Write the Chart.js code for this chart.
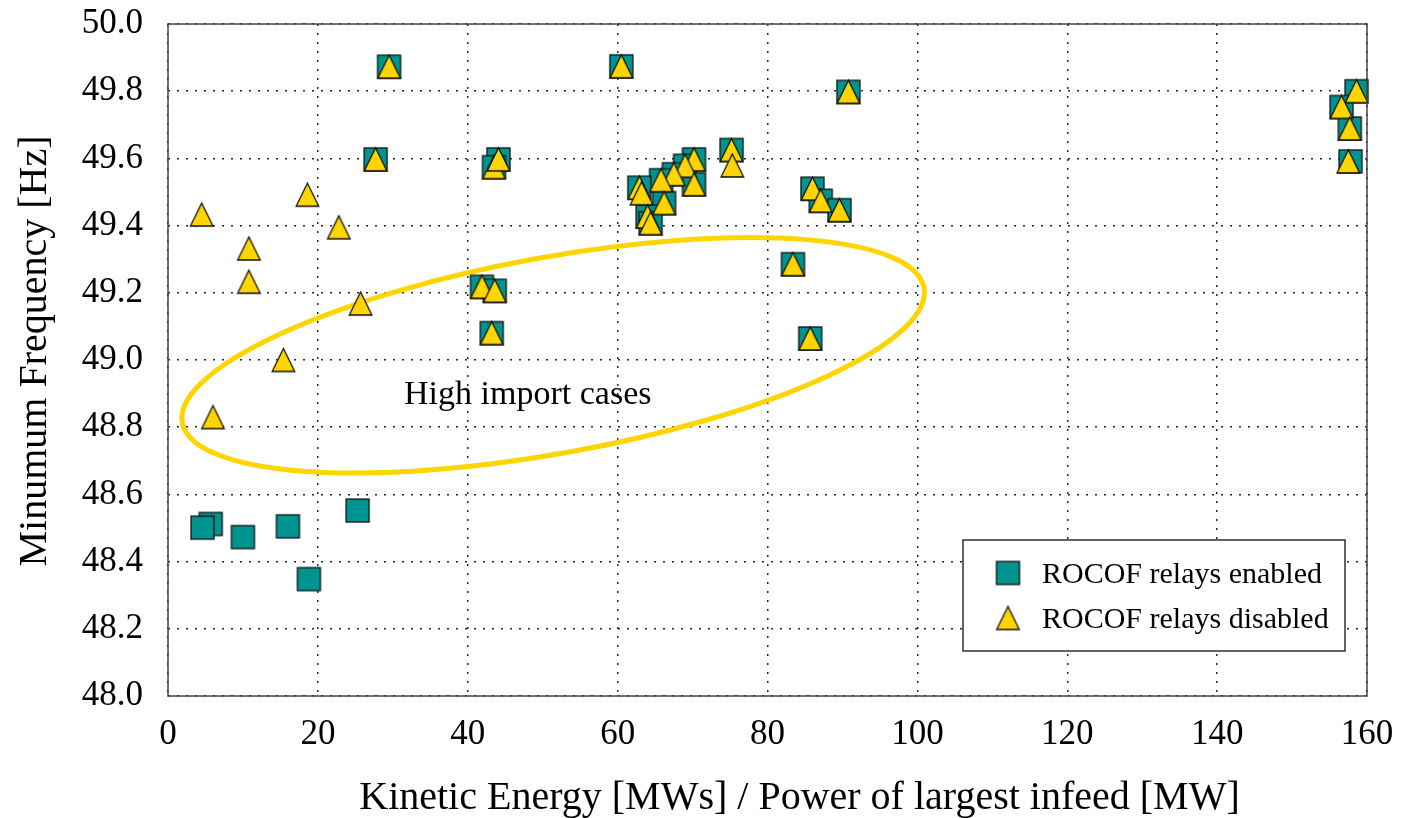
<!DOCTYPE html>
<html>
<head>
<meta charset="utf-8">
<script src="https://cdn.jsdelivr.net/npm/chart.js@4.4.0/dist/chart.umd.min.js"></script>
<style>
html, body { margin: 0; padding: 0; background: #fff; }
#wrap { width: 1402px; height: 818px; }
</style>
</head>
<body>
<div id="wrap"><canvas id="freqChart" width="1402" height="818"></canvas></div>
<script>
// ROCOF relays enabled (squares)
const enabledX = [29.5, 27.7, 41.9, 43.6, 43.2, 44.1, 43.5, 60.5, 90.8, 75.2,
                  70.2, 69.0, 67.5, 65.8, 62.9, 70.2, 66.2, 64.0, 64.4, 86.0,
                  87.1, 89.6, 83.4, 85.7, 5.7, 4.6, 10.0, 16.0, 25.3, 18.8,
                  158.6, 156.6, 157.7, 157.8];
const enabledY = [49.873, 49.597, 49.218, 49.206, 49.080, 49.597, 49.574, 49.874, 49.798, 49.625,
                  49.597, 49.578, 49.553, 49.535, 49.513, 49.523, 49.467, 49.427, 49.407, 49.510,
                  49.474, 49.446, 49.285, 49.064, 48.512, 48.501, 48.473, 48.505, 48.552, 48.348,
                  49.800, 49.753, 49.689, 49.591];

// ROCOF relays disabled (triangles)
const disabledX = [29.5, 27.7, 18.6, 4.5, 22.8, 10.8, 10.8, 25.7, 15.4, 6.0,
                   41.9, 43.6, 43.2, 43.5, 44.1, 60.5, 90.8, 75.2, 75.3, 70.2,
                   69.0, 67.5, 65.8, 62.9, 63.2, 70.2, 66.2, 64.0, 64.4, 86.0,
                   87.1, 89.6, 83.4, 85.7, 158.6, 156.6, 157.7, 157.5];
const disabledY = [49.873, 49.597, 49.492, 49.433, 49.395, 49.332, 49.233, 49.168, 49.000, 48.830,
                   49.218, 49.206, 49.080, 49.574, 49.597, 49.874, 49.798, 49.625, 49.579, 49.597,
                   49.578, 49.553, 49.535, 49.513, 49.496, 49.523, 49.467, 49.427, 49.407, 49.510,
                   49.474, 49.446, 49.285, 49.064, 49.800, 49.753, 49.689, 49.591];

const seriesLabels = ['ROCOF relays enabled', 'ROCOF relays disabled'];
const xTickValues = [0, 20, 40, 60, 80, 100, 120, 140, 160];
const yTickValues = [48.0, 48.2, 48.4, 48.6, 48.8, 49.0, 49.2, 49.4, 49.6, 49.8, 50.0];
const xTitle = 'Kinetic Energy [MWs] / Power of largest infeed [MW]';
const yTitle = 'Minumum Frequency [Hz]';

const annotationText = 'High import cases';
const annotationPos = [31.5, 48.895];
// ellipse: centre, half axes (x units, Hz), tilt in degrees
const ellipseCentre = [51.4, 49.014];
const ellipseHalfAxes = [50.3, 0.292];
const ellipseTilt = -10.3;

const tealColor = '#009490';
const goldColor = '#ffd500';
const fontFamily = '"Liberation Serif", "Times New Roman", serif';

function makeMarker(kind) {
    const c = document.createElement('canvas');
    c.width = 27;
    c.height = 27;
    const g = c.getContext('2d');
    g.lineWidth = 1.3;
    g.strokeStyle = '#111';
    g.lineJoin = 'miter';
    if (kind === 'square') {
        g.fillStyle = tealColor;
        g.fillRect(2, 2, 23, 23);
        g.strokeRect(2, 2, 23, 23);
    } else {
        g.fillStyle = goldColor;
        g.beginPath();
        g.moveTo(13.5, 2);
        g.lineTo(24.8, 25);
        g.lineTo(2.2, 25);
        g.closePath();
        g.fill();
        g.stroke();
    }
    return c;
}

const squareMarker = makeMarker('square');
const triangleMarker = makeMarker('triangle');

function toPoints(xs, ys) {
    return xs.map((x, i) => ({ x: x, y: ys[i] }));
}

const extrasPlugin = {
    id: 'extras',
    beforeDatasetsDraw(chart) {
        const { ctx } = chart;
        const xs = chart.scales.x, ys = chart.scales.y;
        const cx = xs.getPixelForValue(ellipseCentre[0]);
        const cy = ys.getPixelForValue(ellipseCentre[1]);
        const rx = xs.getPixelForValue(ellipseHalfAxes[0]) - xs.getPixelForValue(0);
        const ry = ys.getPixelForValue(48) - ys.getPixelForValue(48 + ellipseHalfAxes[1]);
        ctx.save();
        ctx.beginPath();
        ctx.ellipse(cx, cy, rx, ry, ellipseTilt * Math.PI / 180, 0, Math.PI * 2);
        ctx.strokeStyle = goldColor;
        ctx.lineWidth = 5;
        ctx.stroke();

        ctx.fillStyle = '#000';
        ctx.font = '34px ' + fontFamily;
        ctx.textAlign = 'left';
        ctx.textBaseline = 'middle';
        ctx.fillText(annotationText, xs.getPixelForValue(annotationPos[0]), ys.getPixelForValue(annotationPos[1]));
        ctx.restore();
    },
    afterDatasetsDraw(chart) {
        const { ctx, chartArea: a } = chart;
        ctx.save();
        ctx.strokeStyle = '#444';
        ctx.lineWidth = 1.5;
        ctx.strokeRect(a.left, a.top, a.right - a.left, a.bottom - a.top);

        // axis titles
        ctx.fillStyle = '#000';
        ctx.font = '40px ' + fontFamily;
        ctx.textAlign = 'center';
        ctx.textBaseline = 'middle';
        ctx.fillText(xTitle, (a.left + a.right) / 2 + 32, 798);
        ctx.save();
        ctx.translate(35, (a.top + a.bottom) / 2 - 9);
        ctx.rotate(-Math.PI / 2);
        ctx.fillText(yTitle, 0, 0);
        ctx.restore();

        // legend box, bottom right of the plot
        const boxW = 382, boxH = 111;
        const bx = a.right - 22 - boxW;
        const by = a.bottom - 45 - boxH;
        ctx.fillStyle = '#fff';
        ctx.fillRect(bx, by, boxW, boxH);
        ctx.strokeStyle = '#111';
        ctx.lineWidth = 1.3;
        ctx.strokeRect(bx, by, boxW, boxH);
        const markers = [squareMarker, triangleMarker];
        ctx.font = '30px ' + fontFamily;
        ctx.textAlign = 'left';
        ctx.textBaseline = 'middle';
        ctx.fillStyle = '#000';
        seriesLabels.forEach((label, i) => {
            const my = by + 33 + i * 45;
            ctx.drawImage(markers[i], bx + 45 - 13.5, my - 13.5);
            ctx.fillText(label, bx + 79, my + 2);
        });
        ctx.restore();
    }
};

const gridStyle = {
    color: 'rgba(0,0,0,0.85)',
    lineWidth: 1.5,
    drawTicks: false
};

const ctx = document.getElementById('freqChart').getContext('2d');
new Chart(ctx, {
    type: 'scatter',
    data: {
        datasets: [
            {
                label: seriesLabels[0],
                data: toPoints(enabledX, enabledY),
                pointStyle: squareMarker,
                order: 1,
                clip: false
            },
            {
                label: seriesLabels[1],
                data: toPoints(disabledX, disabledY),
                pointStyle: triangleMarker,
                order: 0,
                clip: false
            }
        ]
    },
    options: {
        responsive: false,
        animation: false,
        events: [],
        layout: { padding: { top: 24, right: 35, left: 0, bottom: 0 } },
        plugins: {
            legend: { display: false },
            tooltip: { enabled: false }
        },
        scales: {
            x: {
                type: 'linear',
                min: 0,
                max: 160,
                afterFit: s => {
                    s.height = 122;
                    s.paddingLeft = 0;
                    s.paddingRight = 0;
                },
                afterBuildTicks: s => { s.ticks = xTickValues.map(v => ({ value: v })); },
                grid: gridStyle,
                border: { display: false, dash: [2, 7] },
                ticks: {
                    padding: 18,
                    color: '#000',
                    font: { family: fontFamily, size: 35 },
                    callback: v => String(v)
                }
            },
            y: {
                type: 'linear',
                min: 48,
                max: 50,
                afterFit: s => {
                    s.width = 168;
                    s.paddingTop = 0;
                    s.paddingBottom = 0;
                },
                afterBuildTicks: s => { s.ticks = yTickValues.map(v => ({ value: v })); },
                grid: gridStyle,
                border: { display: false, dash: [2, 7] },
                ticks: {
                    padding: 25,
                    color: '#000',
                    font: { family: fontFamily, size: 35 },
                    callback: v => v.toFixed(1)
                }
            }
        }
    },
    plugins: [extrasPlugin]
});
</script>
</body>
</html>
